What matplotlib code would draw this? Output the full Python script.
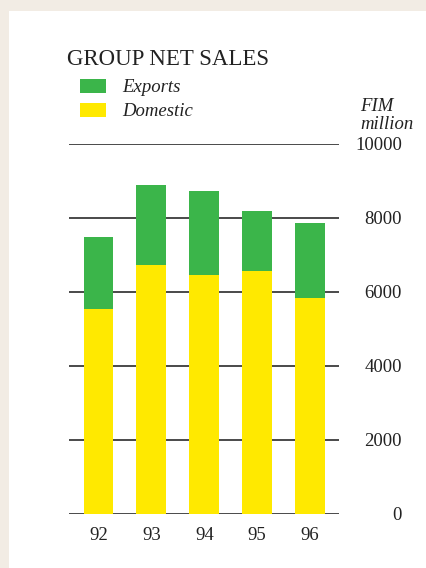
import matplotlib
matplotlib.use("Agg")
import matplotlib.pyplot as plt
from matplotlib.patches import Rectangle

years = ["92", "93", "94", "95", "96"]
domestic = [5540, 6730, 6460, 6570, 5840]
exports = [1950, 2160, 2270, 1620, 2030]
yticks = [0, 2000, 4000, 6000, 8000, 10000]

GREEN = "#3BB54A"
YELLOW = "#FFE900"
TXT = "#222222"
W, H = 426, 568

fig = plt.figure(figsize=(W / 100, H / 100), dpi=100, facecolor="white")

# textured border (flat approximation)
fig.patches.append(Rectangle((0, 0), 9 / W, 1, transform=fig.transFigure,
                             facecolor="#F2ECE4", edgecolor="none", zorder=0))
fig.patches.append(Rectangle((0, 1 - 11 / H), 1, 11 / H, transform=fig.transFigure,
                             facecolor="#F2ECE4", edgecolor="none", zorder=0))

ax = fig.add_axes([69 / W, (H - 514) / H, 270 / W, 370 / H])
ax.set_facecolor("none")
x = list(range(len(years)))
bw = 0.567
ax.bar(x, domestic, width=bw, color=YELLOW, zorder=3)
ax.bar(x, exports, width=bw, bottom=domestic, color=GREEN, zorder=3)

for v in yticks:
    ax.axhline(v, color="#3c3c3c", linewidth=1.3, zorder=1)

ax.set_xlim(-0.558, 4.548)
ax.set_ylim(0, 10000)
for s in ax.spines.values():
    s.set_visible(False)

ax.set_xticks(x)
ax.set_xticklabels(years, fontfamily="Liberation Serif", fontsize=13.5, color=TXT)
ax.tick_params(axis="x", length=0, pad=9)

ax.yaxis.tick_right()
ax.set_yticks(yticks)
ax.set_yticklabels([str(v) for v in yticks], fontfamily="Liberation Serif",
                   fontsize=13.5, color=TXT, ha="right")
ax.tick_params(axis="y", length=0, pad=45.4)

def fx(px):
    return px / W

def fy(py):
    return 1 - py / H

fig.text(fx(67), fy(65), "GROUP NET SALES", fontfamily="Liberation Serif",
         fontsize=16.5, color=TXT, va="baseline", ha="left")

fig.patches.append(Rectangle((fx(80), fy(93)), 26 / W, 14 / H, transform=fig.transFigure,
                             facecolor=GREEN, edgecolor="none"))
fig.patches.append(Rectangle((fx(80), fy(117)), 26 / W, 14 / H, transform=fig.transFigure,
                             facecolor=YELLOW, edgecolor="none"))
fig.text(fx(122), fy(92), "Exports", fontfamily="Liberation Serif", style="italic",
         fontsize=13.5, color=TXT, va="baseline", ha="left")
fig.text(fx(122), fy(116), "Domestic", fontfamily="Liberation Serif", style="italic",
         fontsize=13.5, color=TXT, va="baseline", ha="left")

fig.text(fx(360), fy(111), "FIM", fontfamily="Liberation Serif", style="italic",
         fontsize=13.5, color=TXT, va="baseline", ha="left")
fig.text(fx(360), fy(129), "million", fontfamily="Liberation Serif", style="italic",
         fontsize=13.5, color=TXT, va="baseline", ha="left")

fig.savefig("out.png", dpi=100, facecolor="white")
